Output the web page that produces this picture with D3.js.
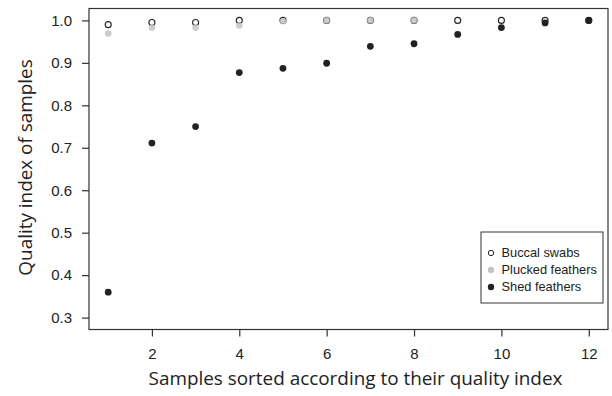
<!DOCTYPE html>
<html><head><meta charset="utf-8">
<script src="https://cdn.jsdelivr.net/npm/d3@7"></script>
<style>body{margin:0;background:#fff}</style>
</head><body>
<svg id="c" width="612" height="396"></svg>
<script>
const samples = [1,2,3,4,5,6,7,8,9,10,11,12];
const buccal = [0.990,0.995,0.995,1.0,1.0,1.0,1.0,1.0,1.0,1.0,1.0,1.0];
const plucked = [0.969,0.983,0.983,0.988,0.998,1.0,1.0,1.0];
const shed = [0.360,0.711,0.750,0.877,0.887,0.899,0.939,0.945,0.967,0.983,0.994,1.0];
const xTicks = [2,4,6,8,10,12];
const yTicks = [0.3,0.4,0.5,0.6,0.7,0.8,0.9,1.0];
const seriesNames = ["Buccal swabs","Plucked feathers","Shed feathers"];

const svg = d3.select("#c");
const L=89, R=608, T=8.5, B=329.5;
const x = d3.scaleLinear().domain([0.56,12.44]).range([L,R]);
const y = d3.scaleLinear().domain([0.272,1.028]).range([B,T]);

svg.append("rect").attr("x",L).attr("y",T).attr("width",R-L).attr("height",B-T)
  .attr("fill","none").attr("stroke","#333").attr("stroke-width",1.2);

const tickFont = "'Liberation Sans', Arial, sans-serif";
const xAxis = svg.append("g").attr("transform",`translate(0,${B})`)
  .call(d3.axisBottom(x).tickValues(xTicks).tickSize(7).tickPadding(11.5).tickFormat(d3.format("d")));
xAxis.select(".domain").remove();
xAxis.selectAll("line").attr("stroke","#333").attr("stroke-width",1.2);
xAxis.selectAll("text").attr("font-family",tickFont).attr("font-size",15).attr("fill","#222");

const yAxis = svg.append("g").attr("transform",`translate(${L},0)`)
  .call(d3.axisLeft(y).tickValues(yTicks).tickSize(7).tickPadding(10).tickFormat(d3.format(".1f")));
yAxis.select(".domain").remove();
yAxis.selectAll("line").attr("stroke","#333").attr("stroke-width",1.2);
yAxis.selectAll("text").attr("font-family",tickFont).attr("font-size",15).attr("fill","#222");

const g = svg.append("g");
g.selectAll(".b").data(buccal).join("circle")
  .attr("cx",(d,i)=>x(samples[i])).attr("cy",d=>y(d)).attr("r",3)
  .attr("fill","none").attr("stroke","#222").attr("stroke-width",1.1);
g.selectAll(".p").data(plucked).join("circle")
  .attr("cx",(d,i)=>x(samples[i])).attr("cy",d=>y(d)).attr("r",3.3)
  .attr("fill","#c4c4c4").attr("fill-opacity",0.85);
g.selectAll(".s").data(shed).join("circle")
  .attr("cx",(d,i)=>x(samples[i])).attr("cy",d=>y(d)).attr("r",3.4)
  .attr("fill","#222");

const titleFont = "'Open Sans', 'Noto Sans', sans-serif";
svg.append("text").attr("x",355.5).attr("y",385).attr("text-anchor","middle")
  .attr("font-family",titleFont).attr("font-size",18.9).attr("fill","#222")
  .text("Samples sorted according to their quality index");
svg.append("text").attr("transform","translate(32,167.5) rotate(-90)").attr("text-anchor","middle")
  .attr("font-family",titleFont).attr("font-size",18.9).attr("fill","#222")
  .text("Quality index of samples");

const lg = svg.append("g");
lg.append("rect").attr("x",481).attr("y",232).attr("width",122).attr("height",71)
  .attr("fill","#fff").attr("stroke","#333").attr("stroke-width",1);
const rows = [253,270,287];
const styles = [
  {fill:"none",stroke:"#222",r:2.7},
  {fill:"#c4c4c4",stroke:"none",r:3.2},
  {fill:"#222",stroke:"none",r:3.2}
];
seriesNames.forEach((n,i)=>{
  lg.append("circle").attr("cx",491).attr("cy",rows[i]).attr("r",styles[i].r)
    .attr("fill",styles[i].fill).attr("stroke",styles[i].stroke).attr("stroke-width",1);
  lg.append("text").attr("x",501.5).attr("y",rows[i]).attr("dy","0.35em")
    .attr("font-family",tickFont).attr("font-size",12.8).attr("fill","#222").text(n);
});
</script>
</body></html>
